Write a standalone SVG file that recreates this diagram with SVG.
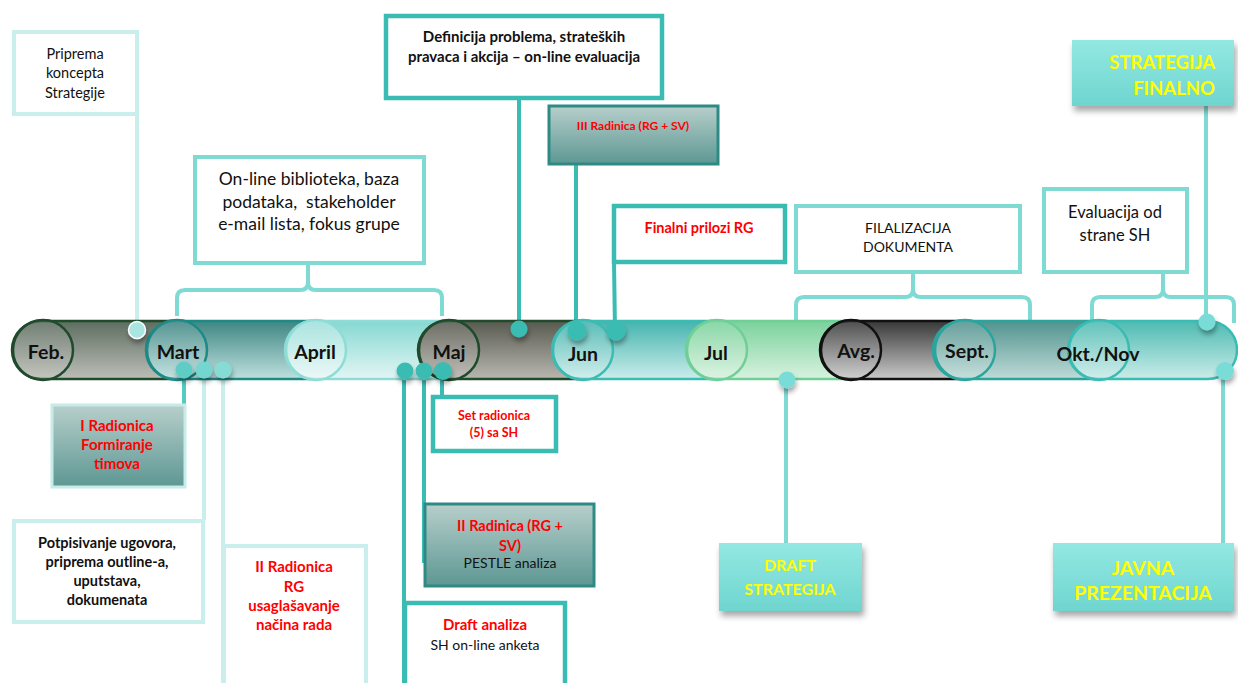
<svg xmlns="http://www.w3.org/2000/svg" width="1238" height="683" viewBox="0 0 1238 683">
<defs>
<style>
text{font-family:Lato,"Liberation Sans",sans-serif;text-anchor:middle;white-space:pre}
.mo{font-weight:bold;font-size:19.5px;fill:#111}
.b{font-weight:bold}
.red{fill:#ff0000;font-weight:bold}
.yel{fill:#ffff00;font-weight:bold}
.blk{fill:#111}
.pale{fill:#fff;stroke:#c9efed;stroke-width:4}
.mid{fill:#fff;stroke:#7fdad4;stroke-width:4}
.teal{fill:#fff;stroke:#3bbcb3;stroke-width:4.5}
.grad{fill:url(#gBox);stroke:#2e8a85;stroke-width:3}
.cy{fill:url(#gCy)}
.ln{fill:none;stroke-width:4}
.lp{stroke:#c9efed}
.lm{stroke:#7fdad4}
.lt{stroke:#3bbcb3}
.seg{stroke-width:2.5}
.circ{stroke-width:2.5;fill:#fff;fill-opacity:.12}
</style>
<linearGradient id="gBox" x1="0" y1="0" x2="0" y2="1"><stop offset="0" stop-color="#b7cfcb"/><stop offset="1" stop-color="#5d9793"/></linearGradient>
<linearGradient id="gCy" x1="0" y1="0" x2="0" y2="1"><stop offset="0" stop-color="#93e8e2"/><stop offset="1" stop-color="#6fd5cf"/></linearGradient>
<linearGradient id="gFeb" x1="0" y1="0" x2="0" y2="1"><stop offset="0" stop-color="#5e6d60"/><stop offset="1" stop-color="#bcbeb7"/></linearGradient>
<linearGradient id="gMar" x1="0" y1="0" x2="0" y2="1"><stop offset="0" stop-color="#3f8683"/><stop offset="1" stop-color="#bde0de"/></linearGradient>
<linearGradient id="gApr" x1="0" y1="0" x2="0" y2="1"><stop offset="0" stop-color="#86d8d2"/><stop offset="1" stop-color="#e2f6f4"/></linearGradient>
<linearGradient id="gMaj" x1="0" y1="0" x2="0" y2="1"><stop offset="0" stop-color="#58594f"/><stop offset="1" stop-color="#b8b8b0"/></linearGradient>
<linearGradient id="gJun" x1="0" y1="0" x2="0" y2="1"><stop offset="0" stop-color="#45b4ae"/><stop offset="1" stop-color="#cbedeb"/></linearGradient>
<linearGradient id="gJul" x1="0" y1="0" x2="0" y2="1"><stop offset="0" stop-color="#7ad29c"/><stop offset="1" stop-color="#d8f2df"/></linearGradient>
<linearGradient id="gAvg" x1="0" y1="0" x2="0" y2="1"><stop offset="0" stop-color="#383838"/><stop offset="1" stop-color="#cacaca"/></linearGradient>
<linearGradient id="gSep" x1="0" y1="0" x2="0" y2="1"><stop offset="0" stop-color="#52938e"/><stop offset="1" stop-color="#bfdbd8"/></linearGradient>
<linearGradient id="gOkt" x1="0" y1="0" x2="0" y2="1"><stop offset="0" stop-color="#4dbbb2"/><stop offset="1" stop-color="#cbece9"/></linearGradient>
<filter id="sh" x="-20%" y="-20%" width="140%" height="160%"><feDropShadow dx="2" dy="5" stdDeviation="3" flood-color="#000" flood-opacity=".35"/></filter>
<filter id="dsh" x="-60%" y="-60%" width="220%" height="240%"><feDropShadow dx="1" dy="4" stdDeviation="2.5" flood-color="#000" flood-opacity=".35"/></filter>
</defs>
<rect width="1238" height="683" fill="#fff"/>

<g id="connectors">
<line class="ln lp" x1="137" y1="113" x2="137" y2="330"/>
<line class="ln lt" x1="519" y1="98" x2="519" y2="329"/>
<line class="ln lt" x1="576" y1="164" x2="576" y2="331"/>
<line class="ln lt" x1="614" y1="262" x2="615" y2="331"/>
<line class="ln lm" x1="1206" y1="106" x2="1206" y2="322"/>
<path class="ln lm" d="M177,316 L177,298 Q177,290 185,290 L300,290 Q308,290 308,282 L308,264 M308,282 Q308,290 316,290 L434,290 Q442,290 442,298 L442,316"/>
<path class="ln lm" d="M796,323 L796,305 Q796,297 804,297 L905,297 Q913,297 913,289 L913,272 M913,289 Q913,297 921,297 L1022,297 Q1030,297 1030,305 L1030,323"/>
<path class="ln lm" d="M1092,323 L1092,305 Q1092,297 1100,297 L1155,297 Q1163,297 1163,289 L1163,272 M1163,289 Q1163,297 1171,297 L1226,297 Q1234,297 1234,305 L1234,323"/>
<line class="ln" stroke="#55cac2" x1="184" y1="370" x2="184" y2="413"/>
<line class="ln lp" x1="204" y1="370" x2="204" y2="520"/>
<line class="ln lp" x1="223" y1="370" x2="223" y2="683"/>
<line class="ln lt" x1="404" y1="372" x2="404" y2="683"/>
<line class="ln lt" x1="424" y1="372" x2="424" y2="563"/>
<line class="ln lt" x1="442" y1="372" x2="442" y2="396"/>
<line class="ln lm" x1="786" y1="380" x2="786" y2="544"/>
<line class="ln lm" x1="1223" y1="372" x2="1223" y2="544"/>
</g>

<g id="timeline">
<rect class="seg" x="12" y="321" width="196" height="58" rx="29" fill="url(#gFeb)" stroke="#1f4a2c"/>
<circle class="circ" cx="43" cy="350" r="30" stroke="#1f4a2c"/>
<rect class="seg" x="146" y="321" width="201" height="58" rx="29" fill="url(#gMar)" stroke="#1e8a86"/>
<circle class="circ" cx="177" cy="350" r="30" stroke="#1e8a86"/>
<rect class="seg" x="285" y="321" width="195" height="58" rx="29" fill="url(#gApr)" stroke="#8fdcd6"/>
<circle class="circ" cx="316" cy="350" r="30" stroke="#8fdcd6" style="fill-opacity:.3"/>
<rect class="seg" x="418" y="321" width="196" height="58" rx="29" fill="url(#gMaj)" stroke="#1f4a2c"/>
<circle class="circ" cx="449" cy="350" r="30" stroke="#1f4a2c"/>
<rect class="seg" x="552" y="321" width="196" height="58" rx="29" fill="url(#gJun)" stroke="#3bbcb3"/>
<circle class="circ" cx="583" cy="350" r="30" stroke="#3bbcb3"/>
<rect class="seg" x="686" y="321" width="196" height="58" rx="29" fill="url(#gJul)" stroke="#6fcf97"/>
<circle class="circ" cx="717" cy="350" r="30" stroke="#6fcf97"/>
<rect class="seg" x="820" y="321" width="175" height="58" rx="29" fill="url(#gAvg)" stroke="#111"/>
<circle class="circ" cx="851" cy="350" r="30" stroke="#111"/>
<rect class="seg" x="933" y="321" width="197" height="58" rx="29" fill="url(#gSep)" stroke="#2aa59e"/>
<circle class="circ" cx="965" cy="350" r="30" stroke="#2aa59e"/>
<rect class="seg" x="1068" y="321" width="169" height="58" rx="29" fill="url(#gOkt)" stroke="#3bbcb3"/>
<circle class="circ" cx="1099" cy="350" r="30" stroke="#3bbcb3"/>
<text class="mo" x="46" y="359">Feb.</text>
<text class="mo" x="178" y="359">Mart</text>
<text class="mo" x="315" y="359">April</text>
<text class="mo" x="449" y="359">Maj</text>
<text class="mo" x="583" y="361">Jun</text>
<text class="mo" x="716" y="360">Jul</text>
<text class="mo" x="856" y="358">Avg.</text>
<text class="mo" x="967" y="358">Sept.</text>
<text class="mo" x="1098" y="361">Okt./Nov</text>
</g>

<g id="dots" filter="url(#dsh)">
<circle cx="137" cy="330" r="8.5" fill="#a9e6e2" stroke="#fff" stroke-width="1.5"/>
<circle cx="519" cy="329" r="8.5" fill="#3bbcb3"/>
<circle cx="577" cy="331" r="9.5" fill="#3bbcb3"/>
<circle cx="616" cy="331" r="9.5" fill="#3bbcb3"/>
<circle cx="184" cy="370" r="8.5" fill="#5fcdc6"/>
<circle cx="204" cy="370" r="8.5" fill="#74d6cf"/>
<circle cx="223" cy="370" r="8.5" fill="#86dbd5"/>
<circle cx="405" cy="371" r="8.5" fill="#3bbcb3"/>
<circle cx="424" cy="371" r="8.5" fill="#3bbcb3"/>
<circle cx="443" cy="371" r="9" fill="#3bbcb3"/>
<circle cx="787" cy="380" r="8.5" fill="#7adcd6"/>
<circle cx="1207" cy="322" r="8.5" fill="#7adcd6"/>
<circle cx="1225" cy="371" r="9" fill="#7adcd6"/>
</g>

<g id="n-priprema">
<rect class="pale" x="14" y="32" width="123" height="82"/>
<text x="75" y="59" font-size="14.5" class="blk">Priprema</text>
<text x="75" y="78" font-size="14.5" class="blk">koncepta</text>
<text x="75" y="98" font-size="14.5" class="blk">Strategije</text>
</g>

<g id="n-online">
<rect class="mid" x="195" y="157" width="229" height="106"/>
<text x="309" y="185" font-size="17.5" class="blk">On-line biblioteka, baza</text>
<text x="309" y="208" font-size="17.5" class="blk">podataka,  stakeholder</text>
<text x="309" y="230" font-size="17.5" class="blk">e-mail lista, fokus grupe</text>
</g>

<g id="n-definicija">
<rect class="teal" x="386" y="16" width="276" height="82"/>
<text x="524" y="42" font-size="15" class="blk b">Definicija problema, strateških</text>
<text x="524" y="62" font-size="15" class="blk b">pravaca i akcija – on-line evaluacija</text>
</g>

<g id="n-iii-radinica">
<rect class="grad" x="549" y="106" width="169" height="58"/>
<text x="633" y="130" font-size="12" class="red">III Radinica (RG + SV)</text>
</g>

<g id="n-finalni">
<rect class="teal" x="614" y="206" width="171" height="56"/>
<text x="699" y="233" font-size="14.5" class="red">Finalni prilozi RG</text>
</g>

<g id="n-filalizacija">
<rect class="mid" x="796" y="206" width="224" height="66"/>
<text x="908" y="233" font-size="14" class="blk">FILALIZACIJA</text>
<text x="908" y="252" font-size="14" class="blk">DOKUMENTA</text>
</g>

<g id="n-evaluacija">
<rect class="mid" x="1044" y="189" width="143" height="83"/>
<text x="1115" y="218" font-size="16.5" class="blk">Evaluacija od</text>
<text x="1115" y="241" font-size="16.5" class="blk">strane SH</text>
</g>

<g id="n-strategija-finalno">
<rect class="cy" x="1072" y="40" width="162" height="66" filter="url(#sh)"/>
<text x="1215" y="69" font-size="18.5" class="yel" style="text-anchor:end">STRATEGIJA</text>
<text x="1215" y="95" font-size="18.5" class="yel" style="text-anchor:end">FINALNO</text>
</g>

<g id="n-i-radionica">
<rect x="52" y="405" width="133" height="82" fill="url(#gBox)" stroke="#c6ebe8" stroke-width="3"/>
<text x="117" y="431" font-size="15" class="red">I Radionica</text>
<text x="117" y="450" font-size="15" class="red">Formiranje</text>
<text x="117" y="469" font-size="15" class="red">timova</text>
</g>

<g id="n-potpisivanje">
<rect class="pale" x="14" y="521" width="189" height="101"/>
<text x="107" y="548" font-size="14.5" class="blk b">Potpisivanje ugovora,</text>
<text x="107" y="567" font-size="14.5" class="blk b">priprema outline-a,</text>
<text x="107" y="586" font-size="14.5" class="blk b">uputstava,</text>
<text x="107" y="605" font-size="14.5" class="blk b">dokumenata</text>
</g>

<g id="n-ii-radionica-rg">
<path class="pale" d="M224,690 L224,546 L366,546 L366,690"/>
<text x="294" y="572" font-size="15" class="red">II Radionica</text>
<text x="294" y="592" font-size="15" class="red">RG</text>
<text x="294" y="611" font-size="15" class="red">usaglašavanje</text>
<text x="294" y="630" font-size="15" class="red">načina rada</text>
</g>

<g id="n-set-radionica">
<rect class="teal" x="433" y="397" width="123" height="54"/>
<text x="494" y="420" font-size="12.5" class="red">Set radionica</text>
<text x="494" y="437" font-size="12.5" class="red">(5) sa SH</text>
</g>

<g id="n-ii-radinica">
<rect class="grad" x="425" y="504" width="169" height="82"/>
<text x="510" y="531" font-size="14.5" class="red">II Radinica (RG +</text>
<text x="510" y="551" font-size="14.5" class="red">SV)</text>
<text x="510" y="568" font-size="14" class="blk">PESTLE analiza</text>
</g>

<g id="n-draft-analiza">
<path class="teal" d="M405,690 L405,603 L565,603 L565,690"/>
<text x="485" y="630" font-size="15" class="red">Draft analiza</text>
<text x="485" y="650" font-size="14" class="blk">SH on-line anketa</text>
</g>

<g id="n-draft-strategija">
<rect class="cy" x="719" y="543" width="143" height="68" filter="url(#sh)"/>
<text x="790" y="571" font-size="16" class="yel">DRAFT</text>
<text x="790" y="595" font-size="16" class="yel">STRATEGIJA</text>
</g>

<g id="n-javna">
<rect class="cy" x="1053" y="543" width="181" height="68" filter="url(#sh)"/>
<text x="1143" y="575" font-size="19.5" class="yel">JAVNA</text>
<text x="1143" y="600" font-size="19.5" class="yel">PREZENTACIJA</text>
</g>
</svg>
